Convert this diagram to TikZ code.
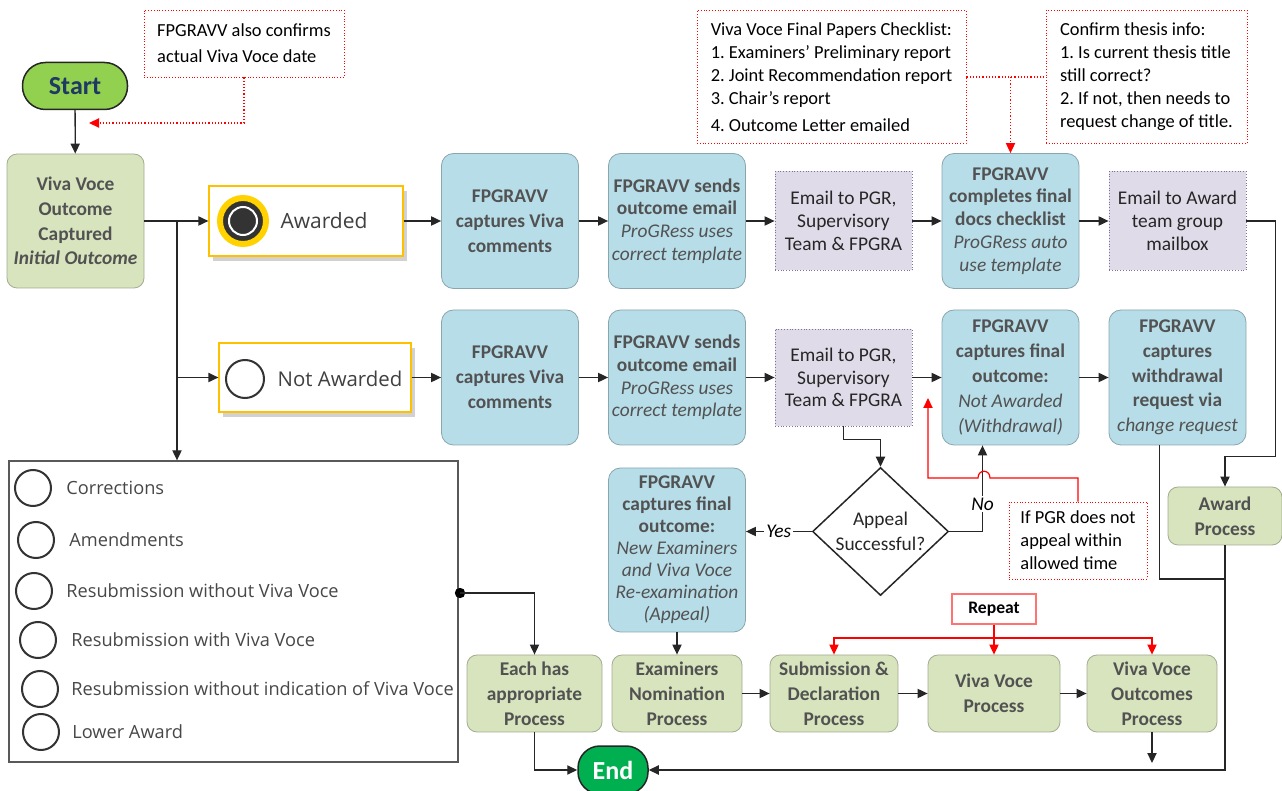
\documentclass[tikz,border=0pt]{standalone}
\usepackage{fontspec}
\setmainfont{Carlito}
\newfontfamily\uifont{Open Sans}
\usetikzlibrary{arrows.meta,shapes.geometric,shadows}
\frenchspacing

\definecolor{procblue}{HTML}{B7DDE8}
\definecolor{procline}{HTML}{8AA6AD}
\definecolor{greenfill}{HTML}{D7E4BD}
\definecolor{greenline}{HTML}{A3AC90}
\definecolor{mailfill}{HTML}{E0DBE9}
\definecolor{mailline}{HTML}{7E6F9E}
\definecolor{txtgray}{HTML}{525252}
\definecolor{startgreen}{HTML}{92D050}
\definecolor{starttext}{HTML}{1F3864}
\definecolor{endgreen}{HTML}{00B050}
\definecolor{awdborder}{HTML}{FFC000}
\definecolor{awdyellow}{HTML}{FFD200}
\definecolor{icondark}{HTML}{333333}

\newcommand{\boxfont}{\fontsize{9.7}{12.4}\selectfont}
\newcommand{\tightfont}{\fontsize{9.7}{11.4}\selectfont}
\newcommand{\notefont}{\fontsize{9.2}{11.5}\selectfont}
\newcommand{\itemfont}{\uifont\fontsize{9.1}{11}\selectfont}

\begin{document}
\begin{tikzpicture}[x=0.5pt, y=-0.5pt, >={Triangle[length=5pt,width=4.6pt]},
    flow/.style = {->, line width=0.65pt, draw=black!85},
    link/.style = {line width=0.65pt, draw=black!85},
    reddot/.style = {red, densely dotted, line width=0.6pt},
    redline/.style = {red, line width=0.6pt},
    proc/.style = {draw=procline, fill=procblue, rounded corners=6pt, minimum width=68.5pt, minimum height=67.5pt, align=center, text=txtgray, font=\boxfont, inner sep=1pt},
    greenbox/.style = {draw=greenline, fill=greenfill, rounded corners=5pt, minimum width=65pt, minimum height=38.5pt, align=center, text=txtgray, font=\boxfont\bfseries, inner sep=1pt},
    mail/.style = {draw=mailline, densely dotted, fill=mailfill, minimum width=68.5pt, minimum height=49.5pt, align=center, text=black!85, font=\tightfont, inner sep=1pt},
    note/.style = {draw=red, densely dotted, fill=white, align=left, font=\notefont, inner xsep=2pt, inner ysep=2pt},
    outcome/.style = {draw=awdborder, line width=0.6pt, fill=white, drop shadow={shadow xshift=2pt, shadow yshift=-2.5pt, opacity=0.3, fill=black!60}},
    terminal/.style = {draw=black!85, line width=0.75pt, rounded corners=11.5pt, minimum height=23.5pt},
    choice/.style = {circle, draw=icondark, line width=1pt, minimum size=18pt, inner sep=0pt},
    item/.style = {anchor=west, font=\itemfont, text=black!72, inner sep=0pt}]

    \useasboundingbox (0,0) rectangle (1282,791);

    \node[terminal, fill=startgreen, text=starttext, minimum width=52.5pt, font=\fontsize{13}{15}\selectfont\bfseries] (start) at (75,86) {Start};
    \node[note, minimum width=100pt, minimum height=33.5pt, font=\fontsize{9.2}{13}\selectfont] (datenote) at (244,43.5) {FPGRAVV also confirms\\actual Viva Voce date};
    \coordinate (datept) at (89,123);

    \node[greenbox, minimum width=68.5pt, minimum height=67pt] (vvoc) at (75.5,221) {Viva Voce\\Outcome\\Captured\\\textit{Initial Outcome}};

    \node[outcome, minimum width=97pt, minimum height=35pt] (awarded) at (306,221) {};
    \node[circle, fill=icondark, draw=awdyellow, line width=3pt, minimum size=23pt, inner sep=0pt] (awdicon) at (243,221) {};
    \node[circle, fill=icondark, draw=white, line width=1pt, minimum size=14pt, inner sep=0pt] (awddot) at (awdicon) {};
    \node[font=\uifont\fontsize{10.5}{12}\selectfont, text=black!75] (awdtxt) at (324,221) {Awarded};

    \node[outcome, minimum width=96pt, minimum height=34.5pt] (notawd) at (315,377.5) {};
    \node[circle, draw=icondark, line width=1pt, minimum size=19pt, inner sep=0pt] (naicon) at (245,379) {};
    \node[font=\uifont\fontsize{10.2}{12}\selectfont, text=black!75] (natxt) at (340,379) {Not Awarded};

    \node[proc] (c1) at (510,221) {\textbf{FPGRAVV}\\\textbf{captures Viva}\\\textbf{comments}};
    \node[proc, font=\tightfont] (c2) at (677,221) {\textbf{FPGRAVV sends}\\\textbf{outcome email}\\\textit{ProGRess uses}\\\textit{correct template}};
    \node[mail] (e1) at (843.5,221) {Email to PGR,\\Supervisory\\Team \& FPGRA};
    \node[proc, font=\tightfont] (c3) at (1010.5,221) {\textbf{FPGRAVV}\\\textbf{completes final}\\\textbf{docs checklist}\\\textit{ProGRess auto}\\\textit{use template}};
    \node[mail] (e2) at (1177.5,221) {Email to Award\\team group\\mailbox};

    \node[note, minimum width=134.5pt, minimum height=66.5pt] (checklist) at (831.5,77) {Viva Voce Final Papers Checklist:\\1. Examiners’ Preliminary report\\2. Joint Recommendation report\\3. Chair’s report\\[2pt]4. Outcome Letter emailed};
    \node[note, minimum width=100.5pt, minimum height=66.5pt] (thesisinfo) at (1146.5,77) {Confirm thesis info:\\1. Is current thesis title\\still correct?\\2. If not, then needs to\\request change of title.};

    \node[proc] (c4) at (510,377.5) {\textbf{FPGRAVV}\\\textbf{captures Viva}\\\textbf{comments}};
    \node[proc, font=\tightfont] (c5) at (677,377.5) {\textbf{FPGRAVV sends}\\\textbf{outcome email}\\\textit{ProGRess uses}\\\textit{correct template}};
    \node[mail, minimum height=48.5pt] (e3) at (843.5,377.5) {Email to PGR,\\Supervisory\\Team \& FPGRA};
    \node[proc] (c6) at (1010.5,377.5) {\textbf{FPGRAVV}\\\textbf{captures final}\\\textbf{outcome:}\\\textit{Not Awarded}\\\textit{(Withdrawal)}};
    \node[proc] (c7) at (1177.5,377.5) {\textbf{FPGRAVV}\\\textbf{captures}\\\textbf{withdrawal}\\\textbf{request via}\\\textit{change request}};

    \node[diamond, draw=black!85, line width=0.75pt, minimum width=68pt, minimum height=64pt, inner sep=0pt] (appeal) at (880.5,531.5) {};
    \node[font=\boxfont, text=black!85, align=center] (appealtxt) at (880.5,531) {Appeal\\Successful?};
    \node[proc, minimum height=82pt, font=\fontsize{9.7}{11}\selectfont] (c8) at (677,550) {\textbf{FPGRAVV}\\\textbf{captures final}\\\textbf{outcome:}\\\textit{New Examiners}\\\textit{and Viva Voce}\\\textit{Re-examination}\\\textit{(Appeal)}};
    \node[note, minimum width=69pt, minimum height=38.5pt] (ifpgr) at (1078,540.5) {If PGR does not\\appeal within\\allowed time};
    \coordinate (noappeal) at (928,398);

    \node[greenbox, minimum width=57pt, minimum height=29pt] (award) at (1225,516) {Award\\Process};
    \coordinate (merge) at (1225,579);

    \node[draw=black!65, line width=0.65pt, minimum width=224.5pt, minimum height=150.5pt] (legend) at (233.5,611.5) {};
    \node[choice] (lc1) at (33,488) {};
    \node[item] (lt1) at (66,488) {Corrections};
    \node[choice] (lc2) at (36,540) {};
    \node[item] (lt2) at (69,540) {Amendments};
    \node[choice] (lc3) at (34,591) {};
    \node[item] (lt3) at (66,591) {Resubmission without Viva Voce};
    \node[choice] (lc4) at (38,640) {};
    \node[item] (lt4) at (71,640) {Resubmission with Viva Voce};
    \node[choice] (lc5) at (40,689) {};
    \node[item] (lt5) at (71,689) {Resubmission without indication of Viva Voce};
    \node[choice] (lc6) at (41,732) {};
    \node[item] (lt6) at (72,732) {Lower Award};
    \coordinate (legdot) at (460,593);

    \node[greenbox, minimum width=67.5pt] (p1) at (534.5,693.5) {Each has\\appropriate\\Process};
    \node[greenbox] (p2) at (677,693.5) {Examiners\\Nomination\\Process};
    \node[greenbox, minimum width=64pt] (p3) at (834,693.5) {Submission \&\\Declaration\\Process};
    \node[greenbox, minimum width=66pt] (p4) at (994,693.5) {Viva Voce\\Process};
    \node[greenbox] (p5) at (1152,693.5) {Viva Voce\\Outcomes\\Process};
    \coordinate (p5tip) at (1152,763);

    \node[draw=red!55, line width=0.6pt, minimum width=42pt, minimum height=15pt, font=\fontsize{8.8}{10}\selectfont\bfseries] (repeat) at (994,609) {Repeat};
    \coordinate (rep) at (994,638);

    \node[terminal, fill=endgreen, text=white, minimum width=35pt, minimum height=24pt, rounded corners=11pt, font=\fontsize{13}{15}\selectfont\bfseries] (endnode) at (613,770) {End};

    \coordinate (split) at (177,221);

    \draw[flow] (start) -- (vvoc);
    \draw[reddot, ->] (datenote.south) |- (datept);

    \draw[flow] (vvoc) -- (awarded);
    \draw[flow] (split) -- (split |- legend.north);
    \draw[flow] (split |- notawd) -- (notawd);

    \draw[flow] (awarded) -- (c1);
    \draw[flow] (c1) -- (c2);
    \draw[flow] (c2) -- (e1);
    \draw[flow] (e1) -- (c3);
    \draw[flow] (c3) -- (e2);
    \draw[reddot] (checklist.east) -- (thesisinfo.west);
    \draw[reddot, ->] (checklist.east -| c3.north) -- (c3.north);

    \draw[flow] (notawd) -- (c4);
    \draw[flow] (c4) -- (c5);
    \draw[flow] (c5) -- (e3);
    \draw[flow] (e3) -- (c6);
    \draw[flow] (c6) -- (c7);

    \draw[flow] (e3.south) -- ++(0,-6.5pt) -| (appeal.north);
    \draw[flow] (appeal.west) -- node[fill=white, inner sep=1pt, font=\boxfont\itshape] (yes) {Yes} (appeal.west -| c8.east);
    \draw[flow] (appeal.east) -| node[pos=0.66, fill=white, inner sep=1pt, font=\boxfont\itshape] (no) {No} ([xshift=-14pt]c6.south);
    \draw[redline, ->] (ifpgr.north) -- (1078,478) -- (990,478) .. controls (990,469) and (978,469) .. (978,478) -- (928,478) -- (noappeal);

    \draw[flow] (e2.east) -- ++(14.5pt,0) |- ([yshift=15pt]award.north) -- (award.north);
    \draw[link] ([xshift=-9pt]c7.south) |- (merge);
    \draw[flow] (award.south) |- (endnode.east);

    \fill[black] (legdot) circle (2.6pt);
    \draw[flow] (legdot) -| (p1.north);
    \draw[flow] (c8) -- (p2);
    \draw[flow] (p1.south) |- (endnode.west);

    \draw[flow] (p2) -- (p3);
    \draw[flow] (p3) -- (p4);
    \draw[flow] (p4) -- (p5);
    \draw[flow] (p5.south) -- (p5tip);

    \draw[redline] (repeat.south) -- (rep);
    \draw[redline, ->] (rep) -| (p3.north);
    \draw[redline, ->] (rep) -- (p4.north);
    \draw[redline, ->] (rep) -| (p5.north);

\end{tikzpicture}
\end{document}
